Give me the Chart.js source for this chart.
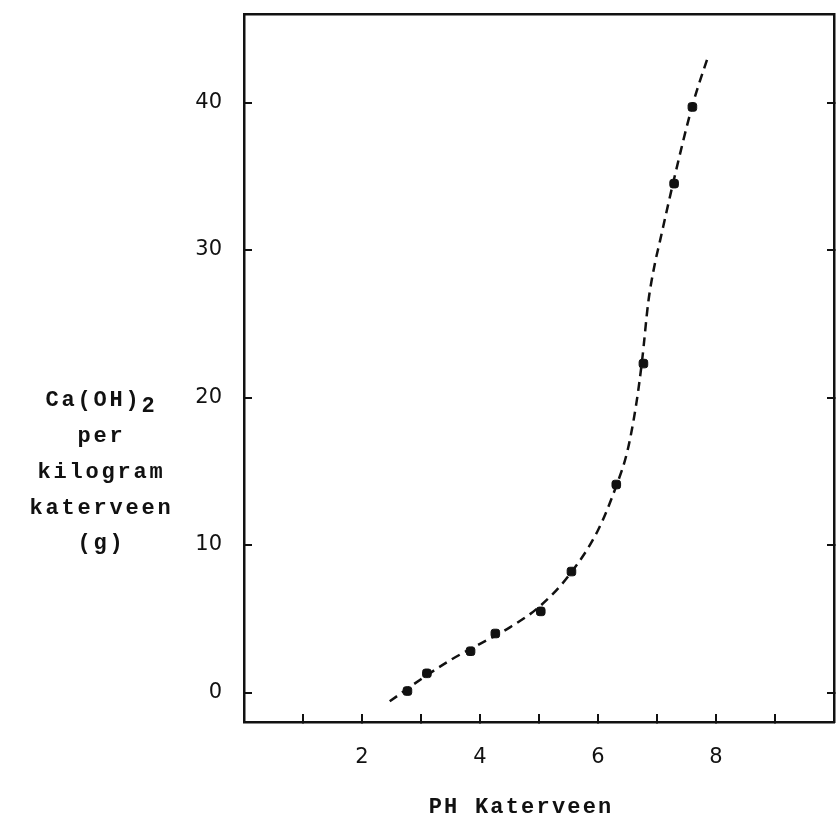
<!DOCTYPE html>
<html>
<head>
<meta charset="utf-8">
<script src="https://cdn.jsdelivr.net/npm/chart.js@4"></script>
<style>
  body { margin: 0; background: #fff; }
  canvas { display: block; }
</style>
</head>
<body>
<canvas id="phChart" width="840" height="819"></canvas>
<script>
// measured points: pH vs Ca(OH)2 (g per kg katerveen)
const phValues = [2.77, 3.10, 3.84, 4.26, 5.03, 5.55, 6.31, 6.77, 7.29, 7.60];
const caValues = [0.1, 1.3, 2.8, 4.0, 5.5, 8.2, 14.1, 22.3, 34.5, 39.7];

// dashed fitted curve
const curvePh = [2.47, 3.0, 3.5, 4.0, 4.5, 5.0, 5.5, 6.0, 6.3, 6.5, 6.65, 6.75, 6.85, 6.95, 7.05, 7.3, 7.6, 7.88];
const curveCa = [-0.6, 0.9, 2.2, 3.3, 4.4, 5.8, 7.9, 11.0, 13.9, 16.4, 19.6, 22.6, 26.4, 28.8, 30.6, 35.0, 39.8, 43.3];

const xTicks = [1, 2, 3, 4, 5, 6, 7, 8, 9];
const xTickLabels = [2, 4, 6, 8];
const yTicks = [0, 10, 20, 30, 40];

const xTitle = 'PH Katerveen';
const yTitleLines = ['Ca(OH)', 'per', 'kilogram', 'katerveen', '(g)'];

const ink = '#111';
const tickFont = { family: '"DejaVu Sans", sans-serif', size: 21 };

// axis titles drawn in typewriter style
const titlesPlugin = {
  id: 'titles',
  afterDraw(chart) {
    const ctx = chart.ctx;
    ctx.save();
    ctx.fillStyle = ink;
    ctx.font = 'bold 22px "Liberation Mono", monospace';
    ctx.textBaseline = 'middle';
    ctx.textAlign = 'left';
    ctx.letterSpacing = '2.8px';
    const ys = [400, 436, 472, 508, 543];
    yTitleLines.forEach((t, i) => {
      const full = i === 0 ? t + '2' : t;
      const w = ctx.measureText(full).width - 2.8;
      const x0 = 100 - w / 2;
      ctx.fillText(t, x0, ys[i]);
      if (i === 0) {
        const w1 = ctx.measureText(t).width;
        ctx.fillText('2', x0 + w1, ys[i] + 6);
      }
    });
    ctx.letterSpacing = '2.2px';
    const wx = ctx.measureText(xTitle).width - 2.2;
    ctx.fillText(xTitle, 520 - wx / 2, 807);
    ctx.restore();
  }
};

const noPad = (s) => { s.paddingTop = 0; s.paddingBottom = 0; };

const ctx = document.getElementById('phChart').getContext('2d');
new Chart(ctx, {
  type: 'scatter',
  data: {
    datasets: [
      {
        label: 'metingen',
        data: phValues.map((v, i) => ({ x: v, y: caValues[i] })),
        backgroundColor: ink,
        borderColor: ink,
        pointStyle: 'rectRounded',
        pointRadius: 5,
        showLine: false
      },
      {
        label: 'curve',
        type: 'line',
        data: curvePh.map((v, i) => ({ x: v, y: curveCa[i] })),
        borderColor: ink,
        borderWidth: 2.5,
        borderDash: [9, 6],
        pointRadius: 0,
        cubicInterpolationMode: 'monotone',
        fill: false
      }
    ]
  },
  options: {
    responsive: false,
    animation: false,
    layout: { padding: 0 },
    plugins: {
      legend: { display: false },
      tooltip: { enabled: false }
    },
    scales: {
      x: {
        type: 'linear',
        position: 'bottom',
        min: 0,
        max: 10,
        afterBuildTicks: (s) => { s.ticks = xTicks.map((v) => ({ value: v })); },
        afterFit: (s) => { s.height = 97; },
        grid: { drawOnChartArea: false, tickLength: -8, lineWidth: 2, color: ink },
        border: { color: ink, width: 2.5 },
        ticks: {
          color: ink,
          font: tickFont,
          padding: 31,
          maxRotation: 0,
          autoSkip: false,
          callback: (v) => (xTickLabels.includes(v) ? String(v) : '')
        }
      },
      x2: {
        type: 'linear',
        position: 'top',
        min: 0,
        max: 10,
        afterFit: (s) => { s.height = 14; },
        grid: { display: false },
        border: { color: ink, width: 2.5 },
        ticks: { display: false }
      },
      y: {
        type: 'linear',
        position: 'left',
        min: -2,
        max: 46,
        afterBuildTicks: (s) => { s.ticks = yTicks.map((v) => ({ value: v })); },
        afterFit: (s) => { s.width = 244; noPad(s); },
        grid: { drawOnChartArea: false, tickLength: -8, lineWidth: 2, color: ink },
        border: { color: ink, width: 2.5 },
        ticks: { color: ink, font: tickFont, padding: 30 }
      },
      y2: {
        type: 'linear',
        position: 'right',
        min: -2,
        max: 46,
        afterBuildTicks: (s) => { s.ticks = yTicks.map((v) => ({ value: v })); },
        afterFit: (s) => { s.width = 5; noPad(s); },
        grid: { drawOnChartArea: false, tickLength: -7, lineWidth: 2, color: ink },
        border: { color: ink, width: 2.5 },
        ticks: { display: false }
      }
    }
  },
  plugins: [titlesPlugin]
});
</script>
</body>
</html>
